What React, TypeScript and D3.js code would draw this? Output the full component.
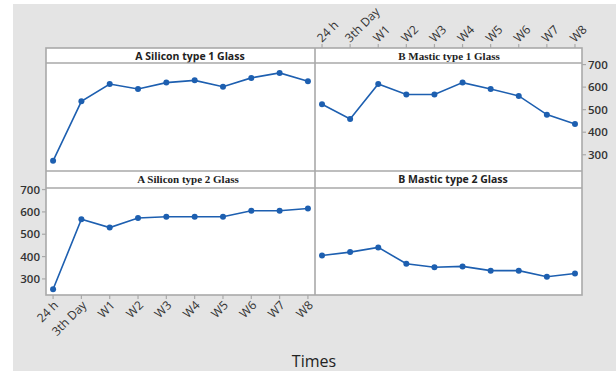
import React from "react";
import * as d3 from "d3";

const times = ["24 h", "3th Day", "W1", "W2", "W3", "W4", "W5", "W6", "W7", "W8"];
const siliconType1 = [273, 537, 614, 592, 620, 630, 602, 641, 663, 626];
const masticType1 = [524, 459, 614, 567, 567, 620, 592, 561, 478, 436];
const siliconType2 = [254, 567, 530, 573, 578, 578, 578, 605, 605, 615];
const masticType2 = [405, 420, 441, 368, 352, 356, 337, 337, 310, 324];
const yTicks = [300, 400, 500, 600, 700];

const W = 616;
const H = 371;
const BORDER = "#a9a9a9";
const BLUE = "#1d5fb0";
const TICK_TXT = "#333";
const SANS = "'Open Sans', 'Noto Sans', sans-serif";

const colX = [
  [46, 315],
  [315, 582],
];
const rowY = [
  { strip: 48, top: 63, bottom: 171 },
  { strip: 171, top: 188, bottom: 295 },
];

const panels = [
  { title: "A Silicon type 1 Glass", values: siliconType1, col: 0, row: 0, serif: false, tx: 190 },
  { title: "B Mastic type 1 Glass", values: masticType1, col: 1, row: 0, serif: true, tx: 449 },
  { title: "A Silicon type 2 Glass", values: siliconType2, col: 0, row: 1, serif: true, tx: 188 },
  { title: "B Mastic type 2 Glass", values: masticType2, col: 1, row: 1, serif: false, tx: 453 },
];

function xScale(col: number) {
  return d3.scalePoint<string>().domain(times).range(colX[col]).padding(0.25);
}
function yScale(row: number) {
  return d3.scaleLinear().domain([228, 707]).range([rowY[row].bottom, rowY[row].top]);
}

export default function App() {
  const xl = xScale(0);
  const xr = xScale(1);
  const yTop = yScale(0);
  const yBot = yScale(1);

  return (
    <svg
      width={W}
      height={H}
      style={{ position: "absolute", left: 0, top: 0, background: "#fff" }}
    >
      <rect x={13} y={4} width={W - 13} height={H - 4} fill="#e4e4e4" />

      {/* panel backgrounds and strips */}
      <rect x={46} y={48} width={582 - 46} height={295 - 48} fill="#fff" />

      {panels.map((p, i) => {
        const x = xScale(p.col);
        const y = yScale(p.row);
        const line = d3
          .line<number>()
          .x((_, j) => x(times[j]) as number)
          .y((v) => y(v));
        return (
          <g key={i}>
            <text
              x={p.tx}
              y={rowY[p.row].strip + 12}
              textAnchor="middle"
              fontSize={p.serif ? 11 : 10.5}
              fontWeight="bold"
              fontFamily={p.serif ? "'Liberation Serif', 'DejaVu Serif', serif" : SANS}
              fill="#222"
            >
              {p.title}
            </text>
            <path d={line(p.values) || ""} fill="none" stroke={BLUE} strokeWidth={1.6} />
            {p.values.map((v, j) => (
              <circle key={j} cx={x(times[j]) as number} cy={y(v)} r={3} fill={BLUE} />
            ))}
          </g>
        );
      })}

      {/* frame and dividers */}
      <g stroke={BORDER} strokeWidth={1.6} fill="none">
        <rect x={46} y={48} width={582 - 46} height={295 - 48} />
        <line x1={315} x2={315} y1={48} y2={295} />
        <line x1={46} x2={582} y1={63} y2={63} />
        <line x1={46} x2={582} y1={171} y2={171} />
        <line x1={46} x2={582} y1={188} y2={188} />
      </g>

      {/* bottom x axis (left column) */}
      {times.map((t) => {
        const px = xl(t) as number;
        return (
          <g key={"b" + t}>
            <line x1={px} x2={px} y1={295} y2={299} stroke={BORDER} strokeWidth={1.2} />
            <text
              transform={`translate(${px + 3},${303}) rotate(-45)`}
              textAnchor="end"
              dy="0.35em"
              fontSize={12}
              fontWeight={500}
              fontFamily={SANS}
              fill={TICK_TXT}
            >
              {t}
            </text>
          </g>
        );
      })}

      {/* top x axis (right column) */}
      {times.map((t) => {
        const px = xr(t) as number;
        return (
          <g key={"t" + t}>
            <line x1={px} x2={px} y1={48} y2={44} stroke={BORDER} strokeWidth={1.2} />
            <text
              transform={`translate(${px - 3},${40}) rotate(-45)`}
              textAnchor="start"
              dy="0.35em"
              fontSize={12}
              fontWeight={500}
              fontFamily={SANS}
              fill={TICK_TXT}
            >
              {t}
            </text>
          </g>
        );
      })}

      {/* left y axis (bottom row) */}
      {yTicks.map((v) => (
        <g key={"l" + v}>
          <line x1={42} x2={46} y1={yBot(v)} y2={yBot(v)} stroke={BORDER} strokeWidth={1.2} />
          <text
            x={40}
            y={yBot(v)}
            dy="0.35em"
            textAnchor="end"
            fontSize={11.5}
            fontWeight={600}
            fontFamily={SANS}
            fill={TICK_TXT}
          >
            {v}
          </text>
        </g>
      ))}

      {/* right y axis (top row) */}
      {yTicks.map((v) => (
        <g key={"r" + v}>
          <line x1={582} x2={586} y1={yTop(v)} y2={yTop(v)} stroke={BORDER} strokeWidth={1.2} />
          <text
            x={588}
            y={yTop(v)}
            dy="0.35em"
            textAnchor="start"
            fontSize={11.5}
            fontWeight={600}
            fontFamily={SANS}
            fill={TICK_TXT}
          >
            {v}
          </text>
        </g>
      ))}

      <text x={314} y={367} textAnchor="middle" fontSize={16} fontFamily={SANS} fill="#222">
        Times
      </text>
    </svg>
  );
}
